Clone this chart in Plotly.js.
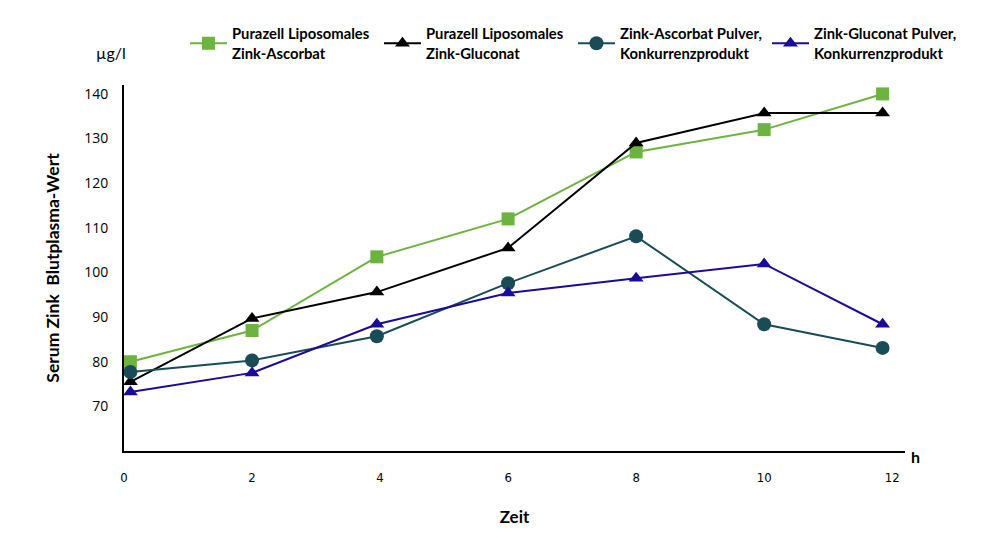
<!DOCTYPE html>
<html>
<head>
<meta charset="utf-8">
<script src="https://cdn.plot.ly/plotly-3.0.1.min.js"></script>
<style>html,body{margin:0;padding:0;background:#fff;}#chart{width:1002px;height:551px;}</style>
</head>
<body>
<div id="chart"></div>
<script>
// Time points (h) as placed in the picture
const timeGreen = [0.1, 2, 3.95, 6, 8, 10, 11.85];
const timeBlack = [0.1, 2, 3.95, 6, 8, 10, 11.85];
const timeTeal  = [0.1, 2, 3.95, 6, 8, 10, 11.85];
const timeBlue  = [0.1, 2, 3.95, 6, 8, 10, 11.85];

const seriesNames = [
  "Purazell Liposomales<br>Zink-Ascorbat",
  "Purazell Liposomales<br>Zink-Gluconat",
  "Zink-Ascorbat Pulver,<br>Konkurrenzprodukt",
  "Zink-Gluconat Pulver,<br>Konkurrenzprodukt"
];
const liposomalAscorbat = [80, 87, 103.5, 112, 127, 132, 140];
const liposomalGluconat = [75.5, 89.7, 95.6, 105.5, 129, 135.7, 135.7];
const pulverAscorbat    = [77.7, 80.3, 85.7, 97.6, 108.1, 88.4, 83.1];
const pulverGluconat    = [73.2, 77.5, 88.4, 95.4, 98.7, 101.9, 88.4];

const xTicks = [0, 2, 4, 6, 8, 10, 12];
const yTicks = [70, 80, 90, 100, 110, 120, 130, 140];

const colors = ["#6db33f", "#000000", "#1a4c58", "#1a0c9a"];
const symbols = ["square", "triangle-up", "circle", "triangle-up"];
const xs = [timeGreen, timeBlack, timeTeal, timeBlue];
const ys = [liposomalAscorbat, liposomalGluconat, pulverAscorbat, pulverGluconat];

const traces = ys.map((y, i) => ({
  type: "scatter",
  mode: "lines+markers",
  x: xs[i],
  y: y,
  name: seriesNames[i],
  line: {color: colors[i], width: 2},
  marker: {color: colors[i], symbol: symbols[i], size: symbols[i] === "circle" ? 14 : 13}
}));

const layout = {
  width: 1002,
  height: 551,
  margin: {l: 124, r: 97, t: 85, b: 100},
  paper_bgcolor: "#ffffff",
  plot_bgcolor: "#ffffff",
  font: {family: "Lato, 'Open Sans', sans-serif", color: "#000"},
  showlegend: true,
  legend: {
    orientation: "h",
    xref: "container", yref: "container",
    x: 0.1846, xanchor: "left",
    y: 0.921, yanchor: "middle",
    font: {family: "Lato", size: 14.8, color: "#000", weight: "bold"},
    itemwidth: 37,
    entrywidth: 142, entrywidthmode: "pixels",
    itemclick: false
  },
  xaxis: {
    range: [0, 12.2],
    tickvals: xTicks,
    ticktext: xTicks.map(String),
    showgrid: false,
    zeroline: false,
    showline: true,
    linecolor: "#000",
    linewidth: 2,
    ticks: "outside", ticklen: 13, tickcolor: "rgba(0,0,0,0)",
    tickfont: {family: "'DejaVu Sans Condensed', 'DejaVu Sans', sans-serif", size: 13, color: "#000"},
    title: {text: "Zeit", font: {family: "Lato", size: 17, color: "#000", weight: "bold"}, standoff: 28}
  },
  yaxis: {
    range: [60, 142],
    tickvals: yTicks,
    ticktext: yTicks.map(String),
    showgrid: false,
    zeroline: false,
    showline: true,
    linecolor: "#000",
    linewidth: 2,
    ticks: "outside", ticklen: 11, tickcolor: "rgba(0,0,0,0)",
    tickfont: {family: "'Open Sans', sans-serif", size: 14, color: "#000"},
    title: {text: "Serum Zink  Blutplasma-Wert", font: {family: "Lato", size: 17.5, color: "#000", weight: "bold"}, standoff: 20}
  },
  annotations: [
    {text: "µg/l", xref: "paper", yref: "paper", x: 0.005, y: 1.09, xanchor: "right", yanchor: "middle", showarrow: false,
     font: {family: "Lato", size: 16, color: "#000"}},
    {text: "h", xref: "paper", yref: "paper", x: 1.005, y: -0.016, xanchor: "left", yanchor: "middle", showarrow: false,
     font: {family: "Lato", size: 16, color: "#000", weight: "bold"}}
  ]
};

Plotly.newPlot("chart", traces, layout, {displayModeBar: false, staticPlot: true});
</script>
</body>
</html>
